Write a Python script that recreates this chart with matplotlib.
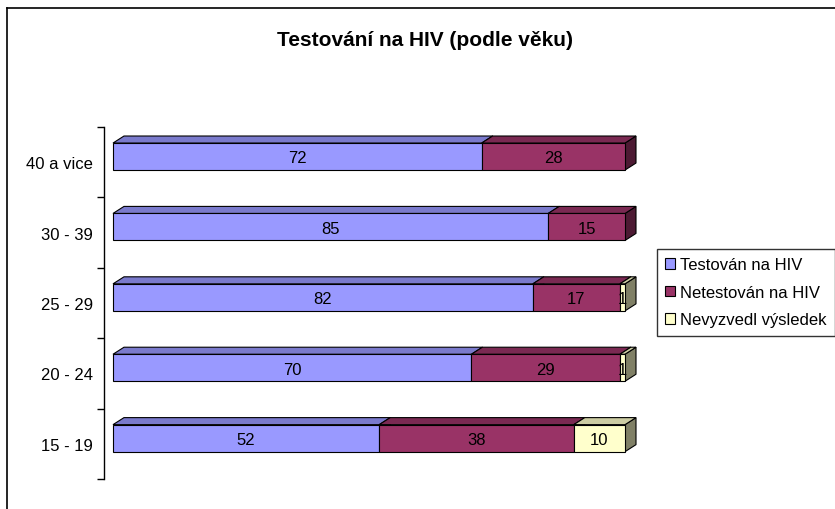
import matplotlib
matplotlib.use("Agg")
import matplotlib.pyplot as plt
from matplotlib.patches import Polygon, Patch
from matplotlib.lines import Line2D
from matplotlib.colors import to_rgb

plt.rcParams["font.family"] = ["Liberation Sans", "DejaVu Sans"]

# Data
categories = ["15 - 19", "20 - 24", "25 - 29", "30 - 39", "40 a vice"]
tested = [52, 70, 82, 85, 72]
not_tested = [38, 29, 17, 15, 28]
no_result = [10, 1, 1, 0, 0]
series_names = ["Testován na HIV", "Netestován na HIV", "Nevyzvedl výsledek"]
colors = ["#9999FF", "#993366", "#FFFFCC"]


def shade(c, f):
    r, g, b = to_rgb(c)
    return (r * f, g * f, b * f)


fig = plt.figure(figsize=(8.35, 5.1), dpi=100)
W, H = 835, 510

# outer chart frame (top and left edges visible)
fig.add_artist(Line2D([7 / W, 1], [1 - 8.5 / H, 1 - 8.5 / H], color="black", lw=1.2))
fig.add_artist(Line2D([7 / W, 7 / W], [0, 1 - 8.5 / H], color="black", lw=1.2))

ax = fig.add_axes([104 / W, 1 - 480 / H, 1 - 104 / W, (480 - 128) / H])
px_per_unit = 5.12
ax.set_xlim((104 - 113) / px_per_unit, (835 - 113) / px_per_unit)
ax.set_ylim(-0.5, len(categories) - 0.5)

# 3D box geometry
face_h = 0.384
face_off = 0.08
dx = 11 / px_per_unit
dy = 0.1

for i, cat in enumerate(categories):
    left = 0
    for vals, col in zip([tested, not_tested, no_result], colors):
        v = vals[i]
        if v == 0:
            continue
        x0, x1 = left, left + v
        yb = i + face_off - face_h / 2
        yt = i + face_off + face_h / 2
        top = Polygon([(x0, yt), (x0 + dx, yt + dy), (x1 + dx, yt + dy), (x1, yt)],
                      closed=True, facecolor=shade(col, 0.8), edgecolor="black", lw=0.8)
        side = Polygon([(x1, yb), (x1 + dx, yb + dy), (x1 + dx, yt + dy), (x1, yt)],
                       closed=True, facecolor=shade(col, 0.5), edgecolor="black", lw=0.8)
        front = Polygon([(x0, yb), (x1, yb), (x1, yt), (x0, yt)],
                        closed=True, facecolor=col, edgecolor="black", lw=0.8)
        ax.add_patch(side)
        ax.add_patch(top)
        ax.add_patch(front)
        ax.text((x0 + x1) / 2, i + face_off - 0.02, str(v), ha="center", va="center", fontsize=12)
        left = x1

# axis styling
for s in ["top", "right", "bottom"]:
    ax.spines[s].set_visible(False)
ax.spines["left"].set_linewidth(1)
ax.set_xticks([])
ax.set_yticks([k - 0.5 for k in range(len(categories) + 1)])
ax.set_yticklabels([])
ax.set_yticks(range(len(categories)), minor=True)
ax.set_yticklabels(categories, minor=True, fontsize=12)
ax.tick_params(axis="y", which="major", direction="out", length=5, width=1)
ax.tick_params(axis="y", which="minor", length=0, pad=8)

fig.text(425 / W, 1 - 41 / H, "Testování na HIV (podle věku)", ha="center", va="center",
         fontsize=15, fontweight="bold")

handles = [Patch(facecolor=c, edgecolor="black", lw=0.8) for c in colors]
leg = fig.legend(handles, series_names, loc="upper left",
                 bbox_to_anchor=(657 / W, 1 - 250 / H), fontsize=12, frameon=True,
                 fancybox=False, handlelength=0.6, handleheight=0.6, handletextpad=0.3,
                 borderpad=0.5, labelspacing=0.75, borderaxespad=0)
leg.get_frame().set_edgecolor("black")
leg.get_frame().set_linewidth(1)

fig.savefig("out.png", dpi=100)
